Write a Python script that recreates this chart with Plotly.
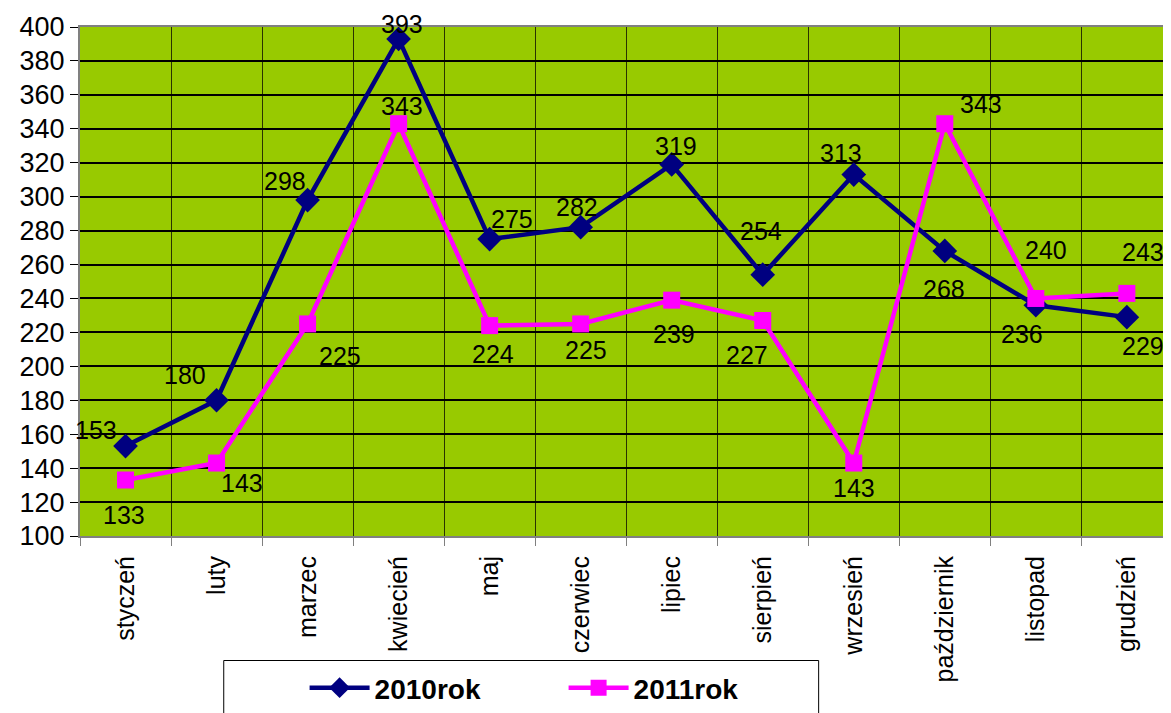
import plotly.graph_objects as go

months = ["styczeń", "luty", "marzec", "kwiecień", "maj", "czerwiec",
          "lipiec", "sierpień", "wrzesień", "październik", "listopad", "grudzień"]
values_2010 = [153, 180, 298, 393, 275, 282, 319, 254, 313, 268, 236, 229]
values_2011 = [133, 143, 225, 343, 224, 225, 239, 227, 143, 343, 240, 243]
y_ticks = list(range(100, 401, 20))

# label offsets in pixels (dx right, dy down) relative to each point
off_2010 = [(-30, -16), (-32, -25), (-23, -19), (3, -15), (22, -20), (-4, -20),
            (4, -18), (-2, -44), (-13, -22), (-1, 38), (-14, 29), (16, 29)]
off_2011 = [(-2, 35), (25, 20), (32, 32), (3, -18), (3, 28), (5, 26),
            (2, 34), (-16, 34), (0, 25), (36, -20), (10, -48), (16, -41)]

FONT = "Arial, Liberation Sans, sans-serif"
xs = list(range(len(months)))

# page has an 8px body margin; figure coords = page coords - 8
L, T, B, R = 72, 19, 530, 1163
PW, PH = R - L, B - T

fig = go.Figure()
fig.add_trace(go.Scatter(
    x=xs, y=values_2010, name="2010rok", mode="lines+markers",
    line=dict(color="#000080", width=4.5),
    marker=dict(symbol="diamond", size=19, color="#000080"),
))
fig.add_trace(go.Scatter(
    x=xs, y=values_2011, name="2011rok", mode="lines+markers",
    line=dict(color="#FF00FF", width=4.5),
    marker=dict(symbol="square", size=17, color="#FF00FF"),
))

annotations = []
for vals, offs in ((values_2010, off_2010), (values_2011, off_2011)):
    for i, (v, (dx, dy)) in enumerate(zip(vals, offs)):
        annotations.append(dict(
            x=i, y=v, xref="x", yref="y", text=str(v), showarrow=False,
            xshift=dx, yshift=-dy, font=dict(family=FONT, size=25, color="black"),
        ))

# legend box
shapes = [dict(type="rect", xref="paper", yref="paper",
               x0=(216 - L) / PW, x1=(812 - L) / PW,
               y0=(B - 655) / PH, y1=-0.5,
               line=dict(color="black", width=1), fillcolor="white", layer="below")]

fig.update_layout(
    width=1163, height=705,
    margin=dict(l=L, r=0, t=T, b=705 - B),
    paper_bgcolor="white", plot_bgcolor="#98CA00",
    font=dict(family=FONT, color="black"),
    showlegend=True,
    legend=dict(orientation="h", x=(297 - L) / PW, xanchor="left",
                y=(B - 658) / PH, yanchor="top",
                font=dict(family=FONT, size=28, color="black", weight="bold"),
                entrywidth=184, entrywidthmode="pixels",
                bgcolor="rgba(0,0,0,0)", borderwidth=0, itemwidth=60),
    annotations=annotations,
    shapes=shapes,
)
fig.update_xaxes(
    range=[-0.5, 11.463], tickmode="array", tickvals=xs, ticktext=months,
    tickangle=-90, ticks="", showgrid=False, zeroline=False,
    tickfont=dict(family=FONT, size=25, color="black"),
    ticklabelstandoff=8,
    showline=True, linecolor="#808080", linewidth=2, mirror=True,
    minor=dict(tick0=0.5, dtick=1, showgrid=True, gridcolor="#2A3300", gridwidth=1,
               ticks="outside", ticklen=8, tickcolor="#808080", tickwidth=1),
)
fig.update_yaxes(
    range=[100, 400], tickmode="array", tickvals=y_ticks,
    ticks="outside", ticklen=8, tickcolor="black", tickwidth=1,
    showgrid=True, gridcolor="black", gridwidth=2, zeroline=False,
    tickfont=dict(family=FONT, size=27, color="black"),
    showline=True, linecolor="#808080", linewidth=2, mirror=True,
)

fig.write_html("out.html")
